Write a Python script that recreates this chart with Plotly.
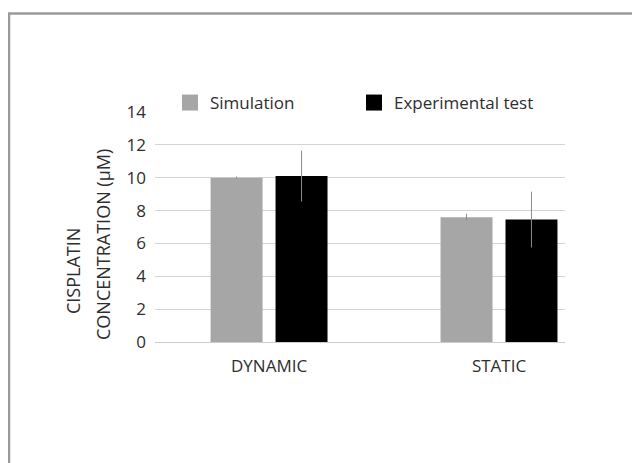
import plotly.graph_objects as go

categories = ["DYNAMIC", "STATIC"]
simulation = [10.0, 7.6]
simulation_err = [0.07, 0.2]
experimental = [10.1, 7.45]
experimental_err = [1.55, 1.7]
y_ticks = [0, 2, 4, 6, 8, 10, 12, 14]
series_names = ["Simulation", "Experimental test"]
series_colors = ["#a6a6a6", "#000000"]

W, H = 640, 463
OFF = 8  # page body margin
ML, MR, MT, MB = 155 - OFF, 640 - 565 + OFF, 112 - OFF, 463 - 342 + OFF
pw = W - ML - MR
ph = H - MT - MB

FONT = "Open Sans"
TXT = "#2e2e2e"
FS = 17

fig = go.Figure()
for name, vals, errs, col in [
    (series_names[0], simulation, simulation_err, series_colors[0]),
    (series_names[1], experimental, experimental_err, series_colors[1]),
]:
    fig.add_trace(go.Bar(
        name=name, x=categories, y=vals, showlegend=False, legendgroup=name,
        marker=dict(color=col, line=dict(width=0)),
        error_y=dict(type="data", array=errs, color="#8c8c8c", thickness=1, width=0),
    ))

# legend entries with larger square swatches
for name, col in zip(series_names, series_colors):
    fig.add_trace(go.Scatter(
        name=name, x=[None], y=[None], mode="markers", legendgroup=name,
        marker=dict(symbol="square", size=16, color=col, line=dict(width=0)),
    ))

def px_x(p):
    return (p - OFF - ML) / pw

def px_y(p):
    return 1 - (p - OFF - MT) / ph

fig.update_layout(
    width=W, height=H,
    margin=dict(l=ML, r=MR, t=MT, b=MB, pad=0),
    paper_bgcolor="white", plot_bgcolor="white",
    barmode="group", bargap=0.435, bargroupgap=0.2,
    font=dict(family=FONT, size=FS, color=TXT),
    showlegend=True,
    legend=dict(
        orientation="h", x=px_x(170), y=px_y(103), xanchor="left", yanchor="middle",
        font=dict(family=FONT, size=FS, color=TXT),
        entrywidth=139, bgcolor="rgba(0,0,0,0)", borderwidth=0,
        traceorder="normal", itemsizing="trace",
    ),
    xaxis=dict(
        range=[-0.496, 1.287], showgrid=False, showline=False, ticks="",
        tickfont=dict(family=FONT, size=FS, color=TXT), ticklabelstandoff=12,
        zeroline=False, fixedrange=True,
    ),
    yaxis=dict(
        range=[0, 14], tickvals=y_ticks, ticktext=[str(v) for v in y_ticks],
        showgrid=True, gridcolor="#d4d4d4", gridwidth=1.2,
        zeroline=True, zerolinecolor="#cccccc", zerolinewidth=1.2,
        showline=False, ticks="", ticklabelstandoff=8,
        tickfont=dict(family=FONT, size=FS, color=TXT),
        fixedrange=True,
    ),
)

fig.add_annotation(
    text="CISPLATIN", xref="paper", yref="paper", x=px_x(73), y=px_y(271),
    textangle=-90, showarrow=False, font=dict(family=FONT, size=18, color=TXT),
    xanchor="center", yanchor="middle",
)
fig.add_annotation(
    text="CONCENTRATION (μM)", xref="paper", yref="paper", x=px_x(103), y=px_y(245),
    textangle=-90, showarrow=False, font=dict(family=FONT, size=18, color=TXT),
    xanchor="center", yanchor="middle",
)

fig.add_shape(
    type="rect", xref="paper", yref="paper",
    x0=px_x(9), x1=px_x(700), y0=px_y(13.5), y1=px_y(520),
    line=dict(color="#9a9a9a", width=2.5), fillcolor="rgba(0,0,0,0)", layer="above",
)

fig.write_html("out.html")
